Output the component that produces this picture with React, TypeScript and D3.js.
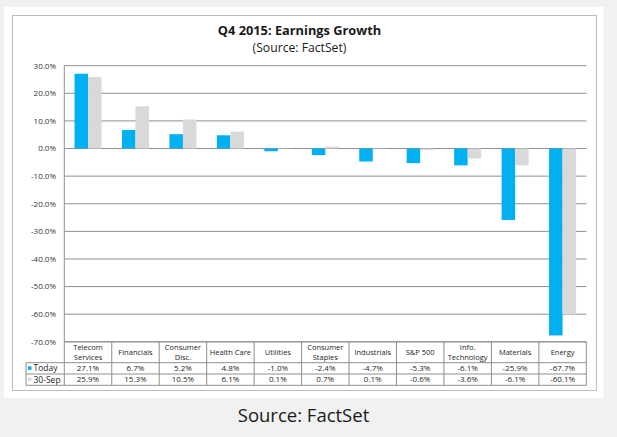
import React from 'react';
import * as d3 from 'd3';

// Sector categories (header lines for the data table)
const categories = [
  'Telecom Services',
  'Financials',
  'Consumer Disc.',
  'Health Care',
  'Utilities',
  'Consumer Staples',
  'Industrials',
  'S&P 500',
  'Info. Technology',
  'Materials',
  'Energy',
];
const categoryLines = [
  ['Telecom', 'Services'],
  ['Financials'],
  ['Consumer', 'Disc.'],
  ['Health Care'],
  ['Utilities'],
  ['Consumer', 'Staples'],
  ['Industrials'],
  ['S&P 500'],
  ['Info.', 'Technology'],
  ['Materials'],
  ['Energy'],
];

const seriesNames = ['Today', '30-Sep'];
const todayValues = [27.1, 6.7, 5.2, 4.8, -1.0, -2.4, -4.7, -5.3, -6.1, -25.9, -67.7];
const sepValues = [25.9, 15.3, 10.5, 6.1, 0.1, 0.7, 0.1, -0.6, -3.6, -6.1, -60.1];
const yTicks = [30, 20, 10, 0, -10, -20, -30, -40, -50, -60, -70];

const colors = ['#00b0f0', '#d9d9d9'];
const chartFont = "'Open Sans', 'Liberation Sans', sans-serif";

const App: React.FC = () => {
  const width = 617;
  const height = 437;
  const plot = { left: 64.3, right: 586.3, top: 65.7, bottom: 341.8 };

  const y = d3.scaleLinear().domain([-70, 30]).range([plot.bottom, plot.top]);
  const x0 = d3.scaleBand<string>().domain(categories).range([plot.left, plot.right]).padding(0);
  const x1 = d3
    .scaleBand<string>()
    .domain(seriesNames)
    .range([0, x0.bandwidth()])
    .paddingInner(0)
    .paddingOuter(0.757);

  const rows = [todayValues, sepValues];
  const headerBottom = 362.7;
  const rowBottoms = [374, 385.3];
  const rowLeft = 26;

  const fmt = (v: number) => `${v.toFixed(1)}%`;

  return (
    <svg
      width={width}
      height={height}
      style={{ position: 'absolute', left: 0, top: 0, fontFamily: chartFont }}
    >
      {/* page background */}
      <rect x={0} y={0} width={width} height={height} fill="#f1f1f1" />
      <rect x={4} y={7} width={599.5} height={391} fill="#ffffff" />
      <rect x={12.5} y={15.5} width={584} height={375} fill="#ffffff" stroke="#bdbdbd" strokeWidth={1} />

      {/* title */}
      <text x={299.5} y={35} textAnchor="middle" fontSize={12.8} fontWeight="bold" fill="#1a1a1a">
        Q4 2015: Earnings Growth
      </text>
      <text x={299.5} y={51.5} textAnchor="middle" fontSize={12.2} fill="#1a1a1a">
        (Source: FactSet)
      </text>

      {/* gridlines */}
      {yTicks.map((t) => (
        <line
          key={`g${t}`}
          x1={plot.left}
          x2={plot.right}
          y1={y(t)}
          y2={y(t)}
          stroke="#8f8f8f"
          strokeWidth={1}
        />
      ))}

      {/* y tick labels */}
      {yTicks.map((t) => (
        <text
          key={`t${t}`}
          x={56}
          y={y(t)}
          dy="0.35em"
          textAnchor="end"
          fontSize={8}
          fill="#333"
        >
          {fmt(t)}
        </text>
      ))}

      {/* bars */}
      {categories.map((c, i) => (
        <g key={c} transform={`translate(${x0(c)},0)`}>
          {rows.map((vals, s) => {
            const v = vals[i];
            return (
              <rect
                key={seriesNames[s]}
                x={x1(seriesNames[s])}
                y={Math.min(y(v), y(0))}
                width={x1.bandwidth()}
                height={Math.abs(y(v) - y(0))}
                fill={colors[s]}
              />
            );
          })}
        </g>
      ))}

      {/* vertical axis line */}
      <line x1={plot.left} x2={plot.left} y1={plot.top} y2={rowBottoms[1]} stroke="#8f8f8f" />

      {/* data table */}
      <g stroke="#8f8f8f" strokeWidth={1}>
        <line x1={plot.left} x2={plot.right} y1={plot.bottom} y2={plot.bottom} />
        <line x1={rowLeft} x2={plot.right} y1={headerBottom} y2={headerBottom} />
        <line x1={rowLeft} x2={plot.right} y1={rowBottoms[0]} y2={rowBottoms[0]} />
        <line x1={rowLeft} x2={plot.right} y1={rowBottoms[1]} y2={rowBottoms[1]} />
        <line x1={rowLeft} x2={rowLeft} y1={headerBottom} y2={rowBottoms[1]} />
        {categories.map((c) => (
          <line
            key={`v${c}`}
            x1={(x0(c) ?? 0) + x0.bandwidth()}
            x2={(x0(c) ?? 0) + x0.bandwidth()}
            y1={plot.bottom}
            y2={rowBottoms[1]}
          />
        ))}
      </g>

      {/* header labels */}
      {categories.map((c, i) => {
        const cx = (x0(c) ?? 0) + x0.bandwidth() / 2;
        const lines = categoryLines[i];
        const mid = (plot.bottom + headerBottom) / 2;
        return (
          <text key={`h${c}`} x={cx} textAnchor="middle" fontSize={7.5} fill="#262626">
            {lines.map((l, k) => (
              <tspan key={k} x={cx} y={mid + (k - (lines.length - 1) / 2) * 10.2} dy="0.35em">
                {l}
              </tspan>
            ))}
          </text>
        );
      })}

      {/* row labels and values */}
      {rows.map((vals, s) => {
        const top = s === 0 ? headerBottom : rowBottoms[0];
        const mid = (top + rowBottoms[s]) / 2;
        return (
          <g key={`r${s}`}>
            <rect x={28} y={mid - 2} width={3.5} height={3.5} fill={colors[s]} />
            <text x={33.5} y={mid} dy="0.35em" fontSize={8.5} fill="#262626">
              {seriesNames[s]}
            </text>
            {categories.map((c, i) => (
              <text
                key={`c${c}`}
                x={(x0(c) ?? 0) + x0.bandwidth() / 2}
                y={mid}
                dy="0.35em"
                textAnchor="middle"
                fontSize={8}
                fill="#262626"
              >
                {fmt(vals[i])}
              </text>
            ))}
          </g>
        );
      })}

      {/* footer */}
      <text x={303.5} y={422.3} textAnchor="middle" fontSize={18.5} fill="#1a1a1a">
        Source: FactSet
      </text>
    </svg>
  );
};

export default App;
